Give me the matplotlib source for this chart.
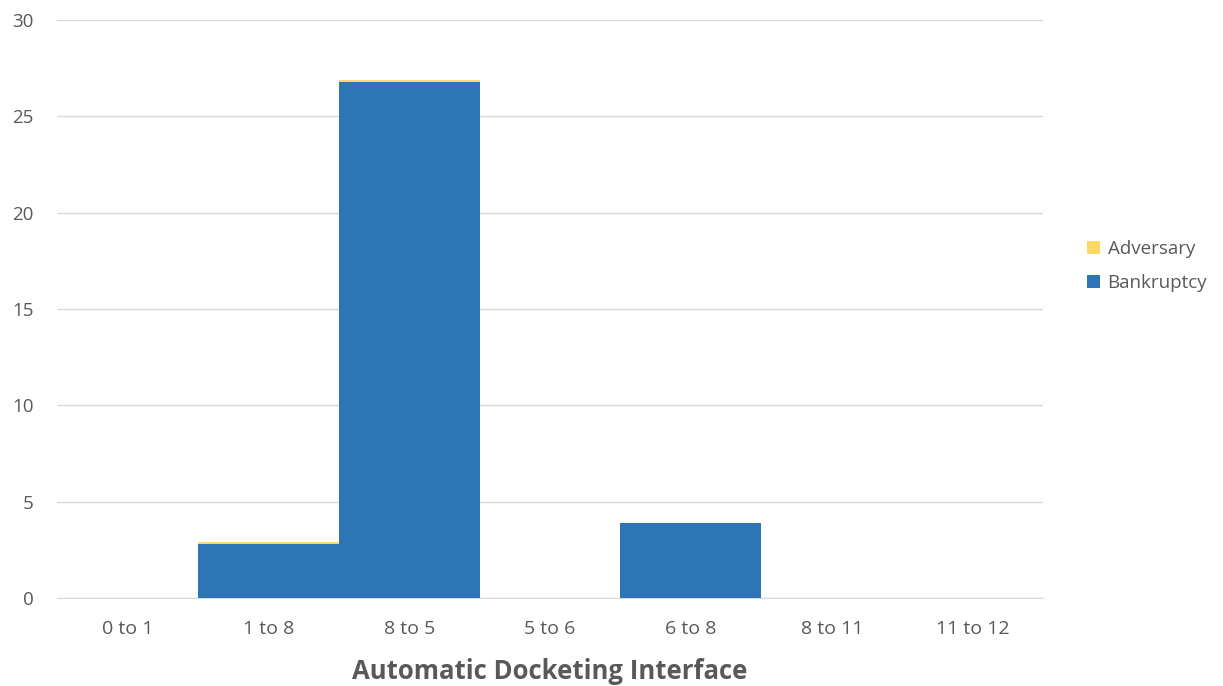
import matplotlib.pyplot as plt
import numpy as np

categories = ["0 to 1", "1 to 8", "8 to 5", "5 to 6", "6 to 8", "8 to 11", "11 to 12"]
bankruptcy = [0, 2.8, 26.8, 0, 3.9, 0, 0]
adversary = [0, 0.1, 0.1, 0, 0, 0, 0]

plt.rcParams["font.family"] = ["Open Sans", "DejaVu Sans"]
text_color = "#595959"

fig = plt.figure(figsize=(12.23, 6.86), dpi=100)
ax = fig.add_axes([57 / 1223, 1 - 598 / 686, (1043 - 57) / 1223, (598 - 20) / 686])

x = np.arange(len(categories))
ax.bar(x, bankruptcy, width=1.0, color="#2E75B6", label="Bankruptcy", zorder=3)
ax.bar(x, adversary, width=1.0, bottom=bankruptcy, color="#FFD966",
       label="Adversary", zorder=3)

ax.set_xlim(-0.5, len(categories) - 0.5)
ax.set_ylim(0, 30)
ax.set_yticks(range(0, 31, 5))
ax.set_xticks(x)
ax.set_xticklabels(categories)
ax.grid(True, axis="y", color="#D9D9D9", linewidth=1, zorder=0)
for s in ["top", "right", "left"]:
    ax.spines[s].set_visible(False)
ax.spines["bottom"].set_color("#D9D9D9")
ax.tick_params(length=0, labelsize=13.5, colors=text_color)
ax.tick_params(axis="x", labelsize=14, pad=16)
ax.tick_params(axis="y", pad=17)

ax.set_xlabel("Automatic Docketing Interface", fontsize=18.5, fontweight="bold",
              color=text_color, labelpad=14)

handles, labels = ax.get_legend_handles_labels()
fig.legend(handles[::-1], labels[::-1], loc="center left",
           bbox_to_anchor=(1070 / 1223, 1 - 266 / 686), frameon=False,
           fontsize=13.5, labelcolor=text_color, handlelength=0.7,
           handleheight=0.7, handletextpad=0.4, labelspacing=0.85)

plt.savefig("out.png", dpi=100)
